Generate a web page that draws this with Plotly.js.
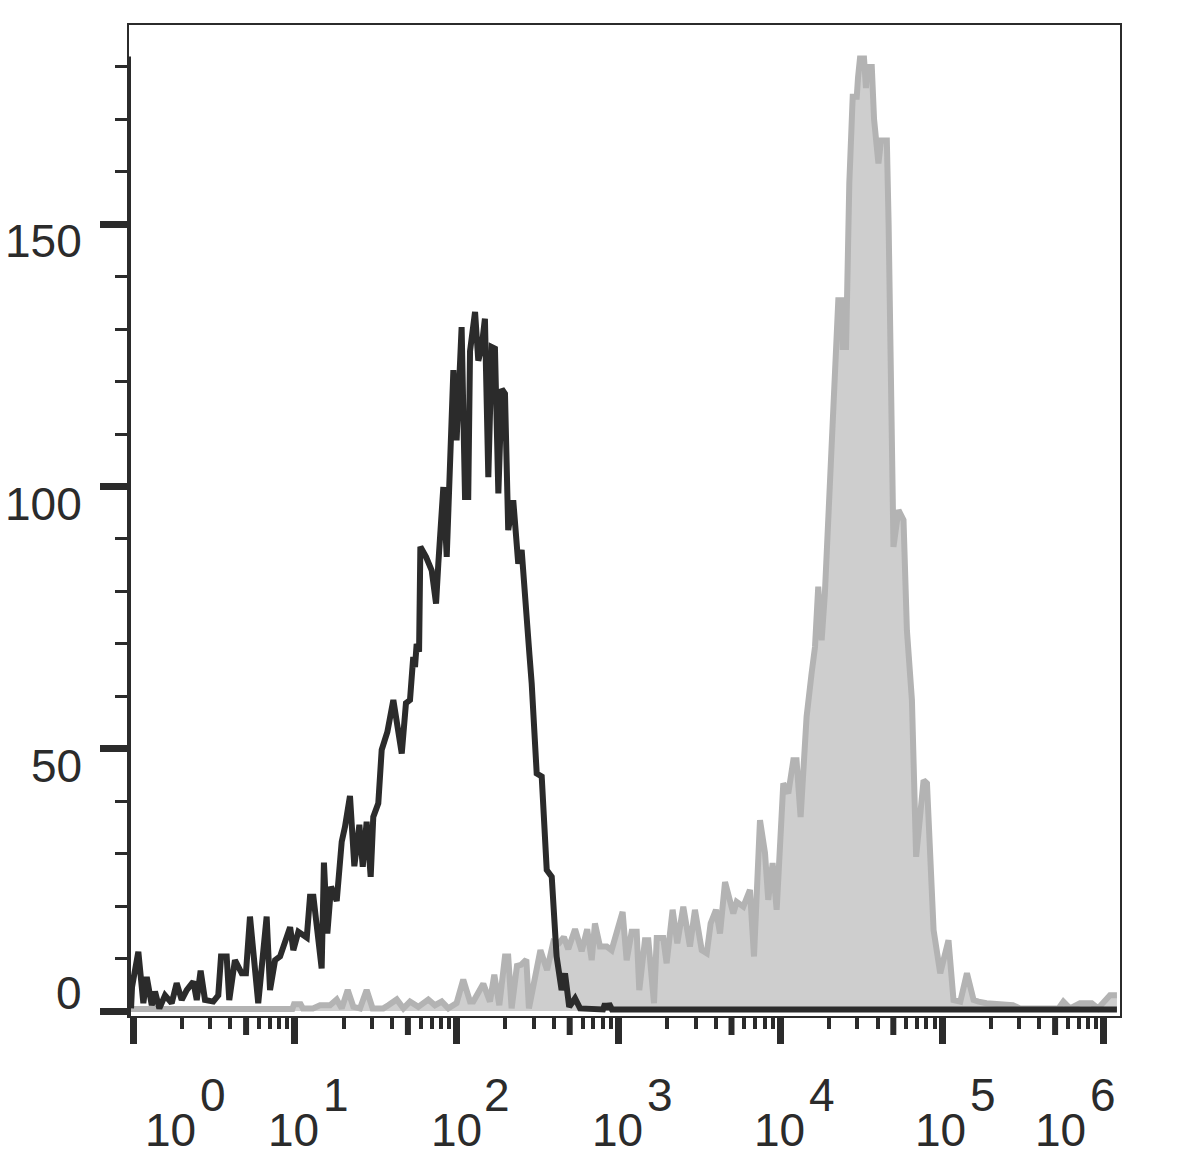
<!DOCTYPE html>
<html><head><meta charset="utf-8">
<script src="https://cdn.plot.ly/plotly-3.0.1.min.js"></script>
<style>html,body{margin:0;padding:0;background:#fff}#chart{width:1192px;height:1159px}</style>
</head><body><div id="chart"></div>
<script>
// Fluorescence intensity, in decades (log10 of intensity); counts per bin
const blackX = [-0.012,-0.006,0.033,0.064,0.085,0.116,0.136,0.163,0.198,0.239,0.270,0.301,0.332,0.373,0.394,0.418,0.445,0.496,0.527,0.544,0.579,0.595,0.630,0.672,0.698,0.723,0.774,0.826,0.847,0.878,0.909,0.971,0.991,1.022,1.074,1.094,1.115,1.140,1.166,1.180,1.201,1.224,1.259,1.290,1.310,1.341,1.368,1.399,1.420,1.444,1.469,1.485,1.516,1.537,1.572,1.609,1.661,1.687,1.712,1.732,1.743,1.753,1.768,1.776,1.811,1.846,1.873,1.887,1.918,1.939,1.959,1.980,2.000,2.031,2.052,2.072,2.083,2.114,2.134,2.155,2.175,2.196,2.217,2.237,2.258,2.279,2.299,2.319,2.350,2.381,2.402,2.433,2.450,2.464,2.495,2.526,2.536,2.557,2.588,2.618,2.649,2.670,2.696,2.732,2.763,2.905,2.917,2.930,2.942,2.960,6.081];
const blackY = [0.5,4.6,11.3,1.5,6.5,1.1,3.7,0.5,3.0,1.5,5.3,2.1,4.0,5.6,2.1,7.7,2.1,1.8,3.0,10.4,10.4,2.1,9.7,7.2,7.2,18.0,1.5,18.0,4.0,9.7,10.4,16.0,11.6,15.1,14.0,21.8,21.8,16.0,8.1,28.3,14.8,23.7,21.0,32.3,35.1,41.0,27.6,35.5,27.5,36.1,25.6,37.0,39.6,49.8,53.2,59.3,49.1,58.7,59.3,67.5,65.6,70.0,68.5,88.5,86.6,84.0,77.7,85.3,99.9,86.6,105.0,122.2,108.8,130.4,98.0,98.0,125.8,133.3,124.0,126.6,132.0,101.8,126.6,126.3,98.7,118.6,117.7,91.7,97.4,85.3,87.9,72.0,68.0,62.5,45.3,44.7,39.0,26.9,25.6,10.4,4.0,7.2,0.8,2.4,0.5,0.3,1.4,0.3,1.4,0.3,0.3];

const grayX = [-0.020,0.985,0.995,1.036,1.050,1.112,1.156,1.218,1.259,1.290,1.327,1.362,1.403,1.444,1.481,1.547,1.578,1.630,1.671,1.712,1.763,1.825,1.866,1.908,1.949,2.000,2.041,2.083,2.103,2.165,2.206,2.233,2.264,2.299,2.319,2.340,2.373,2.398,2.431,2.447,2.518,2.559,2.598,2.632,2.663,2.690,2.732,2.773,2.807,2.835,2.855,2.886,2.928,2.958,3.026,3.051,3.082,3.113,3.129,3.164,3.185,3.220,3.237,3.277,3.298,3.335,3.364,3.401,3.442,3.473,3.515,3.546,3.570,3.603,3.628,3.659,3.710,3.731,3.772,3.813,3.838,3.875,3.906,3.926,3.953,3.978,4.019,4.050,4.081,4.101,4.126,4.163,4.194,4.215,4.235,4.256,4.276,4.297,4.307,4.328,4.345,4.359,4.380,4.386,4.407,4.427,4.448,4.473,4.481,4.493,4.518,4.530,4.539,4.566,4.580,4.607,4.623,4.659,4.670,4.685,4.690,4.700,4.731,4.762,4.783,4.793,4.814,4.840,4.861,4.886,4.907,4.927,4.948,4.989,5.040,5.071,5.113,5.154,5.195,5.226,5.275,5.438,5.482,5.720,5.750,5.791,5.853,5.925,5.964,6.038,6.081];
const grayY = [0.4,0.4,1.3,1.3,0.5,0.5,1.1,1.1,2.2,0.5,4.0,0.8,0.5,4.0,0.5,0.5,1.1,2.2,0.5,1.8,0.8,2.2,1.1,1.8,0.5,1.5,6.0,1.8,1.8,5.2,1.8,6.9,1.1,10.4,10.4,0.5,8.6,8.8,9.8,0.5,11.6,7.8,13.2,12.9,14.1,11.8,15.6,11.4,15.6,9.7,16.7,12.3,12.3,11.6,18.9,9.7,15.1,15.1,4.0,13.5,13.5,1.5,13.9,13.9,9.1,19.3,12.9,19.9,12.3,19.3,11.6,11.0,16.7,19.3,14.8,24.6,18.6,20.8,19.9,23.1,10.4,36.4,30.1,21.2,28.2,19.3,43.4,41.5,47.8,47.8,37.0,56.1,64.4,69.4,80.9,70.7,79.6,93.6,97.4,108.8,125.0,135.5,135.5,126.6,126.6,157.8,174.3,174.3,178.0,181.6,181.6,176.0,180.0,180.0,170.0,161.6,166.0,166.0,150.0,120.0,98.0,88.5,95.5,93.6,72.6,66.9,59.3,29.4,36.4,44.0,43.4,30.1,15.4,7.2,13.5,2.1,1.8,7.2,2.1,1.8,1.5,1.1,0.5,0.5,1.8,0.5,1.5,1.5,0.5,3.0,3.0];

// Axis ticks and labels
const yTickVals = [0, 50, 100, 150];
const yTickText = ['0', '50', '100', '150'];
const yMinorVals = [10,20,30,40,60,70,80,90,110,120,130,140,160,170,180];
const xDecades = [0, 1, 2, 3, 4, 5, 6];
const xBaseText = '10';
const xExpText = ['0', '1', '2', '3', '4', '5', '6'];
const minorMultipliers = [2, 3, 4, 6, 7, 8, 9];
const midMultiplier = 5;

// ---- layout / styling ----
const ink = '#2b2b2b';
const font = {family: '"Liberation Sans", Arial, sans-serif', size: 46, color: ink};
const xRange = [-0.0247, 6.1];
const yRange = [-0.95, 188];
const plotHeightPx = 991;

const xMinorVals = [];
const xMidVals = [];
xDecades.slice(0, 6).forEach(d => {
  minorMultipliers.forEach(m => xMinorVals.push(d + Math.log10(m)));
  xMidVals.push(d + Math.log10(midMultiplier));
});

const yLabelShift = [18, -17, -17, -17];
const baseShift = [10, -29, -28, -28, -28, -29, -71];
const expShift = [65, 26, 25, 27, 27, 26, -16];

const annotations = [];
yTickVals.forEach((v, i) => annotations.push({
  xref: 'paper', x: 0, yref: 'y', y: v, text: yTickText[i],
  xanchor: 'right', yanchor: 'middle', xshift: -45, yshift: yLabelShift[i],
  showarrow: false, font: font
}));
xDecades.forEach((d, i) => {
  annotations.push({xref: 'x', x: d, yref: 'paper', y: 0, text: xBaseText,
    xanchor: 'left', yanchor: 'top', xshift: baseShift[i], yshift: -86, showarrow: false, font: font});
  annotations.push({xref: 'x', x: d, yref: 'paper', y: 0, text: xExpText[i],
    xanchor: 'left', yanchor: 'top', xshift: expShift[i], yshift: -51, showarrow: false, font: font});
});

// medium-length ticks at 5 x 10^n
const shapes = xMidVals.map(v => ({
  type: 'line', xref: 'x', yref: 'paper', x0: v, x1: v, y0: 0, y1: -19 / plotHeightPx,
  line: {color: ink, width: 6}, layer: 'above'
}));
shapes.push({type: 'line', xref: 'paper', yref: 'y', x0: 0, x1: 0, y0: yRange[0], y1: 182,
             line: {color: ink, width: 4}, layer: 'above'});

const traces = [
  {x: grayX, y: grayY, type: 'scatter', mode: 'lines', fill: 'tozeroy',
   fillcolor: '#cecece', line: {color: '#b3b3b3', width: 6}, hoverinfo: 'skip'},
  {x: blackX, y: blackY, type: 'scatter', mode: 'lines',
   line: {color: ink, width: 6}, hoverinfo: 'skip'}
];

const layout = {
  width: 1192, height: 1159,
  margin: {l: 129, r: 72, t: 25, b: 143, pad: 0},
  paper_bgcolor: '#ffffff', plot_bgcolor: '#ffffff',
  showlegend: false, hovermode: false,
  xaxis: {
    range: xRange, tickmode: 'array', tickvals: xDecades, showticklabels: false,
    ticks: 'outside', ticklen: 26, tickwidth: 7, tickcolor: ink,
    showgrid: false, zeroline: false, showline: true, linecolor: ink, linewidth: 2, mirror: true,
    minor: {tickmode: 'array', tickvals: xMinorVals, ticks: 'outside', ticklen: 11, tickwidth: 4, tickcolor: ink, showgrid: false}
  },
  yaxis: {
    range: yRange, tickmode: 'array', tickvals: yTickVals, showticklabels: false,
    ticks: 'outside', ticklen: 27, tickwidth: 7, tickcolor: ink,
    showgrid: false, zeroline: false, showline: true, linecolor: ink, linewidth: 2, mirror: true,
    minor: {tickmode: 'array', tickvals: yMinorVals, ticks: 'outside', ticklen: 12, tickwidth: 3, tickcolor: ink, showgrid: false}
  },
  shapes: shapes,
  annotations: annotations
};

Plotly.newPlot('chart', traces, layout, {staticPlot: true, displayModeBar: false});
</script>
</body></html>
